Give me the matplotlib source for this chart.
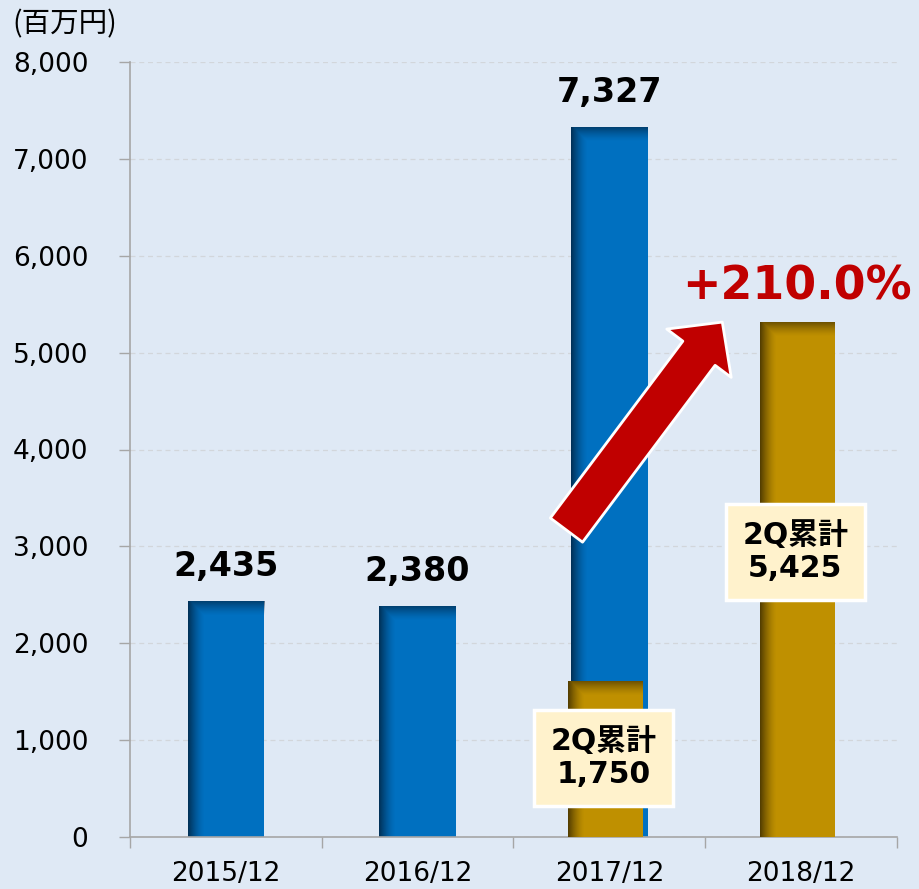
import matplotlib
matplotlib.use("Agg")
import matplotlib.pyplot as plt
import numpy as np
from matplotlib.ticker import FuncFormatter, FixedLocator

# data
periods = ['2015/12', '2016/12', '2017/12', '2018/12']
annual_pos = [0, 1, 2]
annual_vals = [2435, 2380, 7327]
q2_pos = [2, 3]
q2_bar = [1610, 5315]          # drawn bar heights
q2_labels = ['1,750', '5,425']  # values printed in the boxes
q2_label_y = [815, 2940]
growth_text = '+210.0%'

BG = '#dfe9f5'
BLUE = '#0070c0'
GOLD = '#bf9000'
RED = '#c00000'
NUMFONT = ['DejaVu Sans', 'Noto Sans CJK JP']
JPFONT = ['Noto Sans CJK JP', 'DejaVu Sans']

W, H = 920, 889
fig = plt.figure(figsize=(W / 100, H / 100), dpi=100, facecolor=BG)
ax = fig.add_axes([130 / W, 1 - 837 / H, (897 - 130) / W, (837 - 62) / H])
ax.set_facecolor(BG)

ymax = 8000
ax.set_xlim(-0.5, 3.5)
ax.set_ylim(0, ymax)

px_x = (897 - 130) / 4.0          # pixels per category
px_y = (837 - 62) / float(ymax)   # pixels per unit


def shaded_bar(x, h, width, color, dark, z):
    ax.bar(x, h, width=width, color=color, edgecolor='none', zorder=z)
    wpx = max(int(width * px_x), 2)
    hpx = max(int(h * px_y), 2)
    xx = np.arange(wpx)[None, :].repeat(hpx, 0)
    yy = np.arange(hpx)[:, None].repeat(wpx, 1)
    a_left = 0.8 * np.clip(1 - xx / 16.0, 0, 1) ** 1.5
    a_top = 0.6 * np.clip(1 - yy / 14.0, 0, 1) ** 1.4
    alpha = np.maximum(a_left, a_top)
    rgb = matplotlib.colors.to_rgb(dark)
    img = np.zeros((hpx, wpx, 4))
    img[..., :3] = rgb
    img[..., 3] = alpha
    ax.imshow(img, extent=(x - width / 2, x + width / 2, 0, h),
              aspect='auto', origin='upper', zorder=z + 0.1,
              interpolation='bilinear')


bar_w = 0.40
for x, v in zip(annual_pos, annual_vals):
    shaded_bar(x, v, bar_w, BLUE, '#00223f', 2)
    ax.annotate('{:,}'.format(v), (x, v), xytext=(0, 13),
                textcoords='offset points', ha='center', va='bottom',
                fontsize=24, fontweight='bold', family=NUMFONT, zorder=6)

for x, v in zip(q2_pos, q2_bar):
    shaded_bar(x - 0.02, v, 0.39, GOLD, '#3a2a00', 3)

for x, lab, y in zip(q2_pos, q2_labels, q2_label_y):
    ax.text(x - 0.03, y, '2Q累計\n' + lab, ha='center', va='center',
            fontsize=21.5, fontweight='bold', family=NUMFONT,
            linespacing=1.2, zorder=7,
            bbox=dict(boxstyle='square,pad=0.55', fc='#fff2cc',
                      ec='white', lw=2.5))

# growth arrow and text
ax.annotate('', xy=(2.589, 5315), xytext=(1.776, 3168),
            arrowprops=dict(arrowstyle='simple,head_length=2.8,head_width=5.8,tail_width=2.9',
                            fc=RED, ec='white', lw=2, mutation_scale=10,
                            shrinkA=0, shrinkB=0),
            zorder=8)
ax.text(2.98, 5550, growth_text, ha='center', va='baseline', color=RED,
        fontsize=33, fontweight='bold', family=NUMFONT, zorder=8,
        clip_on=False)

# axes styling
ax.yaxis.set_major_locator(FixedLocator(np.arange(0, ymax + 1, 1000)))
ax.yaxis.set_major_formatter(FuncFormatter(lambda v, p: '{:,}'.format(int(v))))
ax.grid(axis='y', color='#d2d6db', linestyle=(0, (4, 3)), linewidth=0.9, zorder=0)
ax.set_axisbelow(True)

ax.set_xticks(np.arange(-0.5, 3.6, 1.0))
ax.set_xticklabels([])
ax.set_xticks(np.arange(4), minor=True)
ax.set_xticklabels(periods, minor=True)
ax.tick_params(axis='x', which='major', length=8, width=1, color='#a6a6a6',
               direction='out')
ax.tick_params(axis='x', which='minor', length=0, pad=17, labelsize=19)
ax.tick_params(axis='y', length=8, width=1, color='#a6a6a6', pad=22,
               labelsize=19)

for s in ['top', 'right']:
    ax.spines[s].set_visible(False)
for s in ['left', 'bottom']:
    ax.spines[s].set_color('#a6a6a6')
    ax.spines[s].set_linewidth(1.2)

fig.text(12 / W, 1 - 9 / H, '(百万円)', ha='left', va='top', fontsize=20.5,
         family=JPFONT)

fig.savefig('out.png', dpi=100, facecolor=BG)
